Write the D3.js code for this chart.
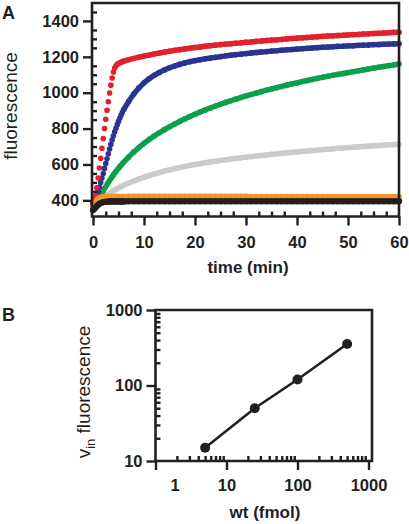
<!DOCTYPE html>
<html><head><meta charset="utf-8">
<script src="https://cdn.jsdelivr.net/npm/d3@7"></script>
<style>body{margin:0;background:#fff}svg{display:block}text{font-family:"Liberation Sans",Arial,sans-serif;fill:#231f20}</style>
</head><body>
<script>
// ---------- Panel A data ----------
const times = [0,0.25,0.5,0.75,1,1.25,1.5,1.75,2,2.25,2.5,2.75,3,3.25,3.5,3.75,4,4.25,4.5,4.75,5,5.25,5.5,5.75,6,
 7,8,9,10,11,12,13,14,15,16,17,18,19,20,21,22,23,24,25,26,27,28,29,30,31,32,33,34,35,36,37,38,39,40,41,42,43,44,45,46,47,48,49,50,51,52,53,54,55,56,57,58,59,60];
const redVals = [385,400,425,470,525,580,635,690,745,800,852,902,950,998,1042,1082,1115,1138,1150,1158,1163,1167,1170,1173,1176,
 1184,1191,1198,1204,1210,1216,1221,1226,1231,1236,1240,1244,1248,1252,1255,1259,1262,1265,1268,1271,1273,1276,1278,1281,1283,1286,1288,1291,1293,1295,1297,1300,1302,1304,1306,1308,1310,1312,1314,1316,1317,1319,1320,1322,1324,1325,1327,1328,1330,1331,1333,1334,1336,1337];
const blueVals = [385,395,410,428,450,474,500,525,550,578,605,632,660,686,712,737,760,782,802,822,840,857,874,890,905,
 952,993,1027,1055,1078,1097,1113,1127,1139,1149,1158,1166,1173,1179,1184,1189,1193,1197,1201,1205,1209,1212,1215,1218,1221,1224,1227,1229,1232,1234,1237,1239,1241,1243,1245,1247,1249,1251,1253,1254,1256,1258,1259,1261,1262,1264,1265,1266,1268,1269,1270,1271,1272,1273];
const greenVals = [378,382,388,396,405,417,429,441,453,465,477,489,500,511,522,532,542,552,561,570,579,588,596,604,612,
 642,670,695,718,739,759,777,794,810,825,840,854,867,880,892,904,915,926,936,946,955,964,973,982,990,998,1006,1014,1021,1028,1035,1042,1049,1055,1062,1068,1074,1080,1086,1091,1097,1102,1107,1112,1117,1122,1127,1132,1137,1142,1146,1151,1155,1160];
const greyVals = [372,378,384,390,396,401,406,411,416,421,426,431,436,440,445,449,453,457,461,465,469,473,477,480,484,
 496,508,519,529,538,547,555,563,570,577,583,589,595,600,605,610,614,618,622,626,630,634,637,641,644,647,650,653,656,659,662,665,668,670,673,675,678,680,683,685,687,690,692,694,696,698,700,702,704,706,708,710,711,713];
const orangeVals = [368,380,392,402,409,414,417,419,420,421,421,421,421,421,421,421,421,421,421,421,421,421,421,421,421,
 422,422,422,422,422,422,422,422,422,422,422,422,422,422,422,422,422,422,422,422,422,422,422,422,421,421,421,421,421,421,421,421,421,421,421,421,421,421,421,420,420,420,420,420,420,420,420,420,420,420,420,420,420,420];
const blackVals = [345,352,360,368,375,381,385,388,390,391,392,393,393,394,394,394,394,394,394,394,394,394,394,394,394,
 395,395,395,395,395,395,395,395,395,395,395,395,395,395,395,395,395,395,395,395,395,395,395,395,395,395,395,395,395,395,395,395,395,395,395,395,395,395,395,395,395,395,395,395,395,395,395,395,395,395,395,395,395,395];
const seriesColors = ["#cbcbcb","#0aa14b","#2b3392","#e3212b","#f3962a","#231f20"];
const yTicksA = [400,600,800,1000,1200,1400];
const xTicksA = [0,10,20,30,40,50,60];

// ---------- Panel B data ----------
const wtFmol = [5,25,100,500];
const vinVals = [15,50,120,355];
const xTicksB = [1,10,100,1000];
const yTicksB = [10,100,1000];

const ink = "#231f20";
const svg = d3.select("body").append("svg").attr("width",409).attr("height",524);

// ================= Panel A =================
const xA = d3.scaleLinear().domain([-0.2,60]).range([92,399]);
const yA = d3.scaleLinear().domain([310,1500]).range([216.5,3]);

const gA = svg.append("g");
const series = [greyVals,greenVals,blueVals,redVals,orangeVals,blackVals];
series.forEach((vals,si)=>{
  const col = seriesColors[si];
  const line = d3.line().defined((d,i)=>times[i]>=6).x((d,i)=>xA(times[i])).y(d=>yA(d));
  gA.append("path").attr("d",line(vals)).attr("fill","none").attr("stroke",col)
    .attr("stroke-width", si===5?6:5.4).attr("stroke-linecap","round").attr("stroke-linejoin","round");
  gA.append("g").selectAll("circle").data(vals).join("circle")
    .attr("cx",(d,i)=>xA(times[i])).attr("cy",d=>yA(d)).attr("r",si===5?3.1:2.8).attr("fill",col);
});

const minorYA = d3.range(350,1500,50).filter(v=>v%200!==0 || v<400);
const minorXA = d3.range(2.5,60,2.5).filter(v=>v%10!==0);

function styleAxis(g){
  g.select(".domain").remove();
  g.selectAll("line").attr("stroke",ink).attr("stroke-width",2.4);
  g.selectAll("text").attr("font-size","16.5px").attr("font-weight","bold").attr("fill",ink);
}
gA.append("g").attr("transform","translate(92,0)")
  .call(d3.axisLeft(yA).tickValues(yTicksA).tickSize(9).tickPadding(4).tickFormat(d3.format("d"))).call(styleAxis);
gA.append("g").attr("transform","translate(92,0)")
  .call(d3.axisLeft(yA).tickValues(minorYA).tickSize(-5).tickFormat("")).call(styleAxis);
gA.append("g").attr("transform","translate(0,216.5)")
  .call(d3.axisBottom(xA).tickValues(xTicksA).tickSize(9).tickPadding(11)).call(styleAxis);
gA.append("g").attr("transform","translate(0,216.5)")
  .call(d3.axisBottom(xA).tickValues(minorXA).tickSize(-5).tickFormat("")).call(styleAxis);
// frame
gA.append("path").attr("d","M92,3H399V216.5H92Z").attr("fill","none").attr("stroke",ink).attr("stroke-width",2.6);

gA.append("text").attr("x",2).attr("y",19).attr("font-size","18px").attr("font-weight","bold").text("A");
gA.append("text").attr("transform","translate(17,106) rotate(-90)").attr("text-anchor","middle")
  .attr("font-size","19px").text("fluorescence");
gA.append("text").attr("x",248).attr("y",273).attr("text-anchor","middle")
  .attr("font-size","17px").attr("font-weight","bold").text("time (min)");

// ================= Panel B =================
const xB = d3.scaleLog().domain([1,1120]).range([155.5,372]);
const yB = d3.scaleLog().domain([10,1000]).range([461,310]);
const gB = svg.append("g");

const minorXB = [1,10,100].flatMap(d=>d3.range(2,10).map(m=>m*d));
const minorYB = [10,100].flatMap(d=>d3.range(2,10).map(m=>m*d));

gB.append("g").attr("transform","translate(155.5,0)")
  .call(d3.axisLeft(yB).tickValues(yTicksB).tickSize(9).tickPadding(4).tickFormat(d3.format("d"))).call(styleAxis);
gB.append("g").attr("transform","translate(155.5,0)")
  .call(d3.axisLeft(yB).tickValues(minorYB).tickSize(-5).tickFormat("")).call(styleAxis);
const xAxB = gB.append("g").attr("transform","translate(0,461)")
  .call(d3.axisBottom(xB).tickValues(xTicksB).tickSize(9).tickPadding(9).tickFormat(d3.format("d"))).call(styleAxis);
xAxB.selectAll("text").filter(d=>d===1).attr("dx",19);
gB.append("g").attr("transform","translate(0,461)")
  .call(d3.axisBottom(xB).tickValues(minorXB).tickSize(-5).tickFormat("")).call(styleAxis);
gB.append("path").attr("d","M155.5,310H372V461H155.5Z").attr("fill","none").attr("stroke",ink).attr("stroke-width",2.6);

gB.append("path").attr("d",d3.line().x((d,i)=>xB(wtFmol[i])).y(d=>yB(d))(vinVals))
  .attr("fill","none").attr("stroke",ink).attr("stroke-width",2.6);
gB.selectAll("circle.pt").data(vinVals).join("circle").attr("class","pt")
  .attr("cx",(d,i)=>xB(wtFmol[i])).attr("cy",d=>yB(d)).attr("r",5).attr("fill",ink);

gB.append("text").attr("x",2).attr("y",321).attr("font-size","18px").attr("font-weight","bold").text("B");
const yl = gB.append("text").attr("transform","translate(90,392) rotate(-90)").attr("text-anchor","middle").attr("font-size","19px");
yl.append("tspan").text("v");
yl.append("tspan").attr("font-size","13px").attr("dy",5).text("in");
yl.append("tspan").attr("dy",-5).text(" fluorescence");
gB.append("text").attr("x",265).attr("y",518).attr("text-anchor","middle")
  .attr("font-size","17px").attr("font-weight","bold").text("wt (fmol)");
</script>
</body></html>
